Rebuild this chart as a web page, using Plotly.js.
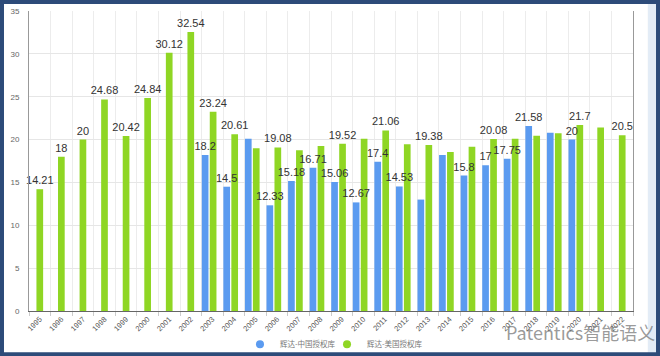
<!DOCTYPE html>
<html>
<head>
<meta charset="utf-8">
<script src="https://cdn.plot.ly/plotly-3.0.1.min.js"></script>
<style>
  html, body { margin: 0; padding: 0; background: #2d4b79; }
  #chart { width: 660px; height: 356px; }
</style>
</head>
<body>
<div id="chart"></div>
<script>
// ---- data ----
const years = ['1995','1996','1997','1998','1999','2000','2001','2002','2003','2004','2005','2006','2007','2008',
               '2009','2010','2011','2012','2013','2014','2015','2016','2017','2018','2019','2020','2021','2022'];
const chinaValues = [null,null,null,null,null,null,null,null,18.2,14.5,20.1,12.33,15.18,16.71,
                     15.06,12.67,17.4,14.53,13.0,18.2,15.8,17,17.75,21.58,20.8,20,null,null];
const usValues = [14.21,18,20,24.68,20.42,24.84,30.12,32.54,23.24,20.61,19.0,19.08,18.75,19.25,
                  19.52,20.1,21.06,19.45,19.38,18.55,19.15,20.08,20.1,20.45,20.75,21.7,21.4,20.5];
const chinaLabeledYears = ['2003','2004','2006','2007','2008','2009','2010','2011','2012','2015','2016','2017','2018','2020'];
const usLabeledYears = ['1995','1996','1997','1998','1999','2000','2001','2002','2003','2004','2006','2009','2011','2013','2016','2020','2022'];
const seriesNames = ['辉达-中国授权库', '辉达-美国授权库'];
const yTicks = [0,5,10,15,20,25,30,35];

// ---- styling ----
const blue = '#5b9bf0';
const green = '#8fd624';
const barW = 0.31;

const chinaText = years.map((y,i) => (chinaValues[i] !== null && chinaLabeledYears.includes(y)) ? String(chinaValues[i]) : '');
const usText = years.map((y,i) => usLabeledYears.includes(y) ? String(usValues[i]) : '');
const usOffsets = chinaValues.map(v => v === null ? -barW/2 : -0.49 + barW + 0.06);

const labelFont = {family: 'Liberation Sans, Arial, sans-serif', size: 11, color: '#333'};

const traces = [
  { // green first so blue labels are drawn on top of green bars
    type: 'bar', x: years, y: usValues, name: seriesNames[1],
    marker: {color: green}, width: barW, offset: usOffsets,
    text: usText, textposition: 'outside', textangle: 0, constraintext: 'none',
    textfont: labelFont, cliponaxis: false, showlegend: false, hoverinfo: 'skip'
  },
  {
    type: 'bar', x: years, y: chinaValues, name: seriesNames[0],
    marker: {color: blue}, width: barW, offset: -0.49,
    text: chinaText, textposition: 'outside', textangle: 0, constraintext: 'none',
    textfont: labelFont, cliponaxis: false, showlegend: false, hoverinfo: 'skip'
  },
  { type: 'scatter', mode: 'markers', x: [null], y: [null], name: seriesNames[0], legend: 'legend',
    marker: {color: blue, size: 8, symbol: 'circle'}, hoverinfo: 'skip' },
  { type: 'scatter', mode: 'markers', x: [null], y: [null], name: seriesNames[1], legend: 'legend2',
    marker: {color: green, size: 8, symbol: 'circle'}, hoverinfo: 'skip' }
];

const legendStyle = {
  orientation: 'h', xanchor: 'left', y: -0.111, yanchor: 'middle',
  font: {size: 7.5, color: '#777', family: 'Noto Sans CJK SC, sans-serif'},
  bgcolor: 'rgba(0,0,0,0)', itemwidth: 30
};

const layout = {
  width: 660, height: 356,
  margin: {l: 29, r: 27, t: 11, b: 45.3, autoexpand: false},
  paper_bgcolor: '#2d4b79',
  plot_bgcolor: '#ffffff',
  barmode: 'overlay',
  font: {family: 'Liberation Sans, Arial, sans-serif', color: '#666'},
  xaxis: {
    type: 'category', range: [-0.5, years.length - 0.5],
    tickson: 'boundaries', ticks: 'outside', ticklen: 4, tickcolor: '#cccccc',
    showgrid: true, gridcolor: '#ececec', gridwidth: 1,
    showline: true, linecolor: '#666', linewidth: 1,
    tickangle: -45, tickfont: {size: 7.5, color: '#555'},
    fixedrange: true
  },
  yaxis: {
    range: [0, 35], tickvals: yTicks, ticks: '',
    showgrid: true, gridcolor: '#e6e6e6', gridwidth: 1,
    showline: true, linecolor: '#999', linewidth: 1, mirror: true,
    zeroline: false, ticklabelstandoff: 7,
    tickfont: {size: 8, color: '#666'}, fixedrange: true
  },
  legend: Object.assign({}, legendStyle, {x: 0.3493}),
  legend2: Object.assign({}, legendStyle, {x: 0.4934}),
  shapes: [
    {type: 'rect', xref: 'paper', yref: 'paper', layer: 'below',
     x0: -0.0414, x1: 1.0248, y0: -0.1378, y1: 1.0234,
     fillcolor: '#ffffff', line: {width: 0}},
    {type: 'rect', xref: 'paper', yref: 'paper', layer: 'below',
     x0: 1.0248, x1: 1.0381, y0: -0.1378, y1: 1.0234,
     fillcolor: '#e3ecf6', line: {width: 0}}
  ],
  annotations: [
    {xref: 'paper', yref: 'paper', x: 0.786, y: -0.071, xanchor: 'left', yanchor: 'middle',
     text: 'Patentics智能语义', showarrow: false,
     font: {size: 18, color: 'rgba(110,110,110,0.7)', family: 'Noto Sans CJK SC, sans-serif'}}
  ],
  hovermode: false
};

Plotly.newPlot('chart', traces, layout, {displayModeBar: false, staticPlot: true});
</script>
</body>
</html>
